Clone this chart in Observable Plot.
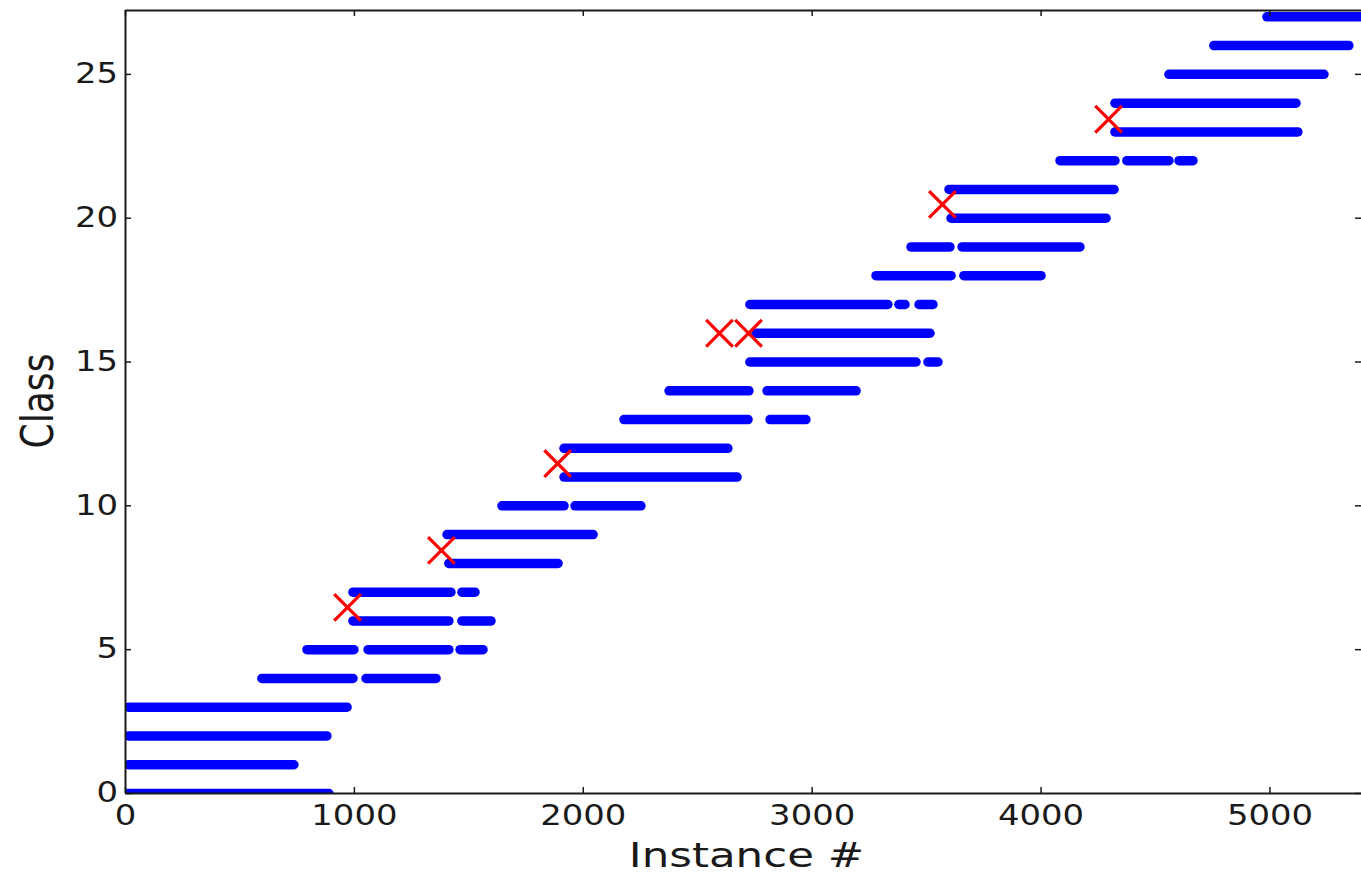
<!DOCTYPE html>
<html><head><meta charset="utf-8">
<script src="https://cdn.jsdelivr.net/npm/d3@7"></script>
<script src="https://cdn.jsdelivr.net/npm/@observablehq/plot@0.6"></script>
<style>body{margin:0;background:#fff;} #chart{width:1361px;height:877px;}</style>
</head><body><div id="chart"></div>
<script>
// Horizontal runs of instances per class (instance # start / end)
const segClass = [0, 1, 2, 3, 4, 4, 5, 5, 5, 6, 6, 7, 7, 8, 9, 10, 10, 11, 12, 13, 13, 14, 14, 15, 15, 16, 17, 17, 17, 18, 18, 19, 19, 20, 21, 22, 22, 22, 23, 24, 25, 26, 27];
const segStart = [15, 15, 15, 15, 598, 1053, 795, 1062, 1464, 996, 1472, 996, 1472, 1415, 1407, 1647, 1966, 1918, 1918, 2180, 2818, 2377, 2805, 2730, 3508, 2757, 2730, 3381, 3469, 3281, 3665, 3434, 3657, 3609, 3600, 4085, 4377, 4605, 4325, 4325, 4561, 4757, 4989];
const segEnd   = [891, 738, 882, 970, 996, 1359, 1000, 1415, 1564, 1415, 1599, 1424, 1529, 1892, 2045, 1918, 2254, 2674, 2634, 2722, 2975, 2726, 3194, 3456, 3552, 3517, 3333, 3408, 3530, 3609, 4002, 3604, 4172, 4286, 4321, 4325, 4561, 4666, 5124, 5116, 5238, 5347, 5450];
// Red change markers
const changeX = [970, 1380, 1888, 2595, 2722, 3569, 4295];
const changeY = [6.47, 8.45, 11.47, 16, 16, 20.48, 23.44];
// Axes
const xTicks = [0, 1000, 2000, 3000, 4000, 5000];
const yTicks = [0, 5, 10, 15, 20, 25];
const xDomain = [0, 5400];
const yDomain = [0, 27.22];
const xLabel = "Instance #";
const yLabel = "Class";

const segs = segClass.map((c, i) => ({c, a: segStart[i], b: segEnd[i]}));
const changes = changeX.map((x, i) => ({x, y: changeY[i]}));

const W = 1361, H = 877, ML = 125, MR = 0, MT = 10, MB = 84;
const fw = W - ML - MR, fh = H - MT - MB, tk = 6;
const ink = "#1a1a1a";

const svg = Plot.plot({
  width: W, height: H,
  marginLeft: ML, marginRight: MR, marginTop: MT, marginBottom: MB,
  style: {fontFamily: "'DejaVu Sans', sans-serif", fontSize: "27.5px", background: "#fff", color: ink},
  x: {domain: xDomain, ticks: xTicks, tickSize: 0, tickPadding: 12, tickFormat: d => String(d), label: null},
  y: {domain: yDomain, ticks: yTicks, tickSize: 0, tickPadding: 7.5, tickFormat: d => String(d), label: null},
  marks: [
    Plot.ruleY(segs, {y: "c", x1: "a", x2: "b", stroke: "#0000ff", strokeWidth: 9.5, strokeLinecap: "round", clip: true}),
    Plot.dot(changes, {x: "x", y: "y", symbol: "times", r: 12.15, stroke: "#ff0000", strokeWidth: 3.2}),
    // frame spines
    Plot.ruleX([xDomain[0]], {stroke: ink, strokeWidth: 2}),
    Plot.ruleY([yDomain[0]], {stroke: ink, strokeWidth: 2}),
    Plot.ruleY([yDomain[1]], {stroke: ink, strokeWidth: 2}),
    // inward ticks on all sides
    Plot.tickX(xTicks, {x: d => d, insetTop: fh - tk, stroke: ink, strokeWidth: 1.5}),
    Plot.tickX(xTicks, {x: d => d, insetBottom: fh - tk, stroke: ink, strokeWidth: 1.5}),
    Plot.tickY(yTicks, {y: d => d, insetRight: fw - tk, stroke: ink, strokeWidth: 1.5}),
    Plot.tickY(yTicks, {y: d => d, insetLeft: fw - tk, stroke: ink, strokeWidth: 1.5}),
    // axis titles
    Plot.text([xLabel], {frameAnchor: "bottom", text: d => d, textAnchor: "middle", lineAnchor: "middle", dx: 3, dy: 63, fontSize: 34, fill: ink}),
    Plot.text([yLabel], {frameAnchor: "left", text: d => d, rotate: -90, textAnchor: "middle", lineAnchor: "middle", dx: -87, dy: -1, fontSize: 44, fill: ink})
  ]
});
document.getElementById("chart").append(svg);

// The reference's lettering is drawn wider than the font's natural proportions
svg.querySelectorAll("text").forEach(t => {
  const s = t.textContent.trim();
  const f = s === xLabel ? 1.28 : s === yLabel ? 0.82 : 1.23;
  const L = t.getComputedTextLength();
  if (L > 0) { t.setAttribute("textLength", L * f); t.setAttribute("lengthAdjust", "spacingAndGlyphs"); }
});
</script>
</body></html>
